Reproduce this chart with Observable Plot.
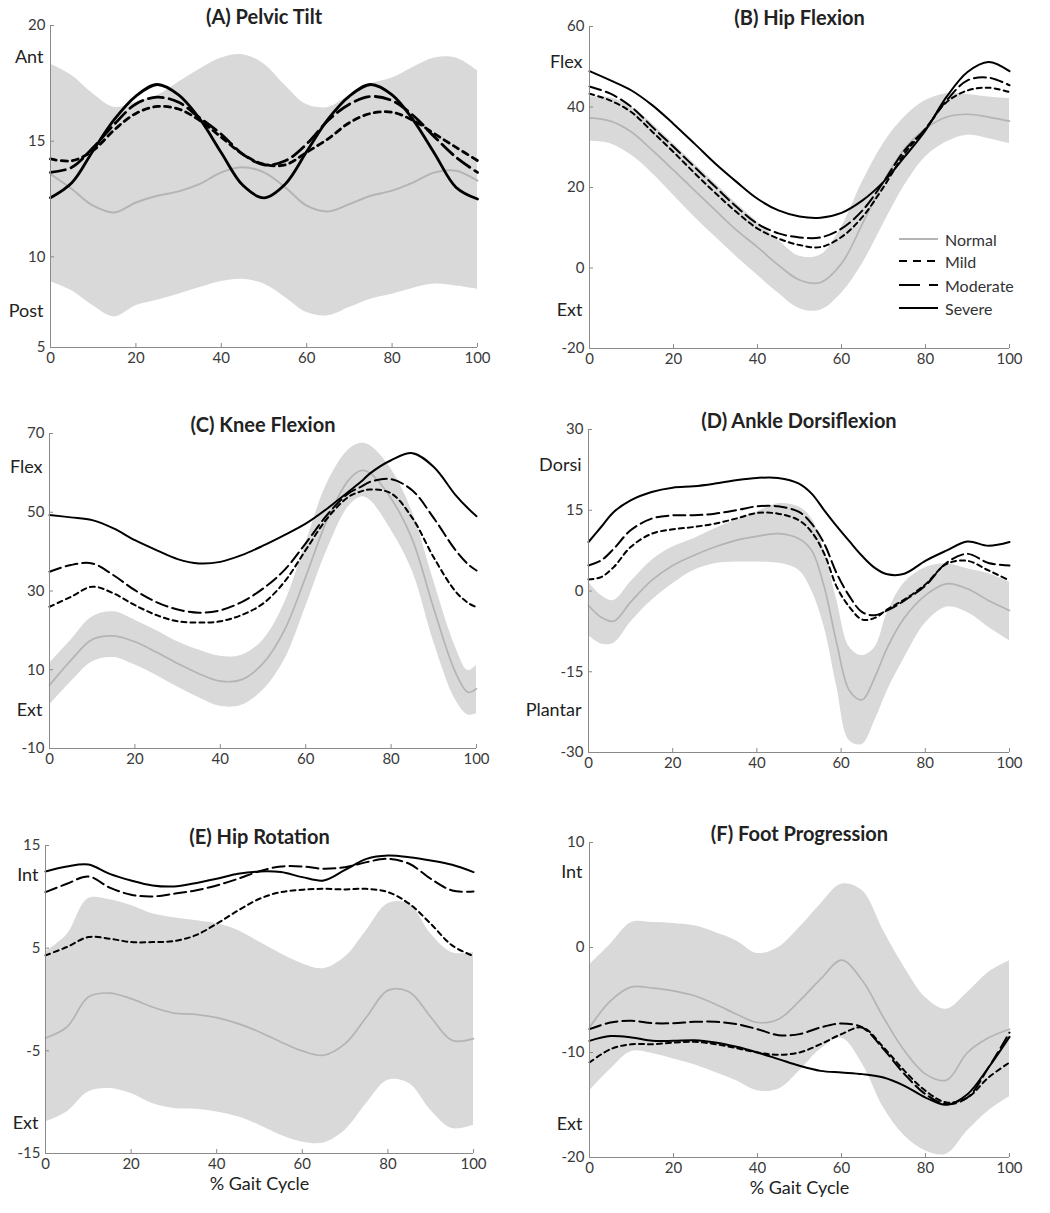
<!DOCTYPE html>
<html>
<head>
<meta charset="utf-8">
<script src="https://cdn.jsdelivr.net/npm/d3@7"></script>
<script src="https://cdn.jsdelivr.net/npm/@observablehq/plot@0.6"></script>
<style>
  body { margin: 0; background: #fff; font-family: Lato, "Open Sans", sans-serif; }
  #root { position: relative; width: 1050px; height: 1213px; overflow: hidden; background: #fff; }
  .panel { position: absolute; }
  .panel svg { overflow: visible; }
  .legend-row { position: absolute; height: 20px; display: flex; align-items: center; font-size: 16px; color: #333; white-space: nowrap; }
  .legend-row svg { display: block; margin-right: 6px; }
</style>
</head>
<body>
<div id="root"></div>
<script>
// ---------------- DATA ----------------
const gaitX = [0,5,10,15,20,25,30,35,40,45,50,55,60,65,70,75,80,85,90,95,100];
const groups = ["Normal", "Mild", "Moderate", "Severe"];
const xTicks = [0, 20, 40, 60, 80, 100];

// (A) Pelvic Tilt
const pelvicNormal   = [13.58,12.93,12.21,11.92,12.35,12.64,12.83,13.15,13.65,13.87,13.65,13.00,12.21,11.96,12.28,12.64,12.86,13.22,13.65,13.72,13.29];
const pelvicUpper    = [18.34,17.84,17.04,16.46,16.68,16.97,17.55,18.12,18.60,18.74,18.34,17.40,16.58,16.46,16.97,17.47,17.73,18.20,18.60,18.60,18.05];
const pelvicLower    = [8.92,8.53,7.88,7.40,7.88,8.12,8.38,8.67,8.93,9.03,8.82,8.24,7.59,7.45,7.81,8.17,8.38,8.64,8.82,8.74,8.60];
const pelvicMild     = [14.23,14.15,14.6,15.5,16.2,16.5,16.39,15.89,15.17,14.44,14.0,13.98,14.52,15.1,15.8,16.2,16.25,15.89,15.31,14.73,14.16];
const pelvicModerate = [13.65,13.87,14.73,15.74,16.61,16.9,16.68,16.0,15.3,14.44,13.98,14.15,14.88,15.89,16.6,16.93,16.75,16.1,15.17,14.3,13.65];
const pelvicSevere   = [12.55,13.2,14.6,15.95,16.95,17.45,17.0,15.95,14.5,13.1,12.55,13.15,14.55,15.95,16.95,17.45,17.0,15.9,14.45,13.0,12.5];

// (B) Hip Flexion
const hipNormal   = [37.3,36.5,33.8,29.2,24.3,19.3,14.3,9.4,5.2,0.7,-3.0,-3.6,1.1,11.0,21.4,29.6,34.6,37.5,38.2,37.5,36.5];
const hipUpper    = [42.5,42.3,40.0,35.8,30.9,25.9,21.0,16.0,11.4,6.9,2.9,3.2,10.2,21.4,30.9,37.5,41.6,43.3,43.1,42.5,42.1];
const hipLower    = [31.5,30.9,28.0,23.5,18.1,12.7,7.7,2.8,-1.8,-6.3,-10.1,-10.5,-6.3,1.1,11.0,20.5,27.6,31.3,33.0,32.1,30.9];
const hipMild     = [43.3,41.6,38.7,33.8,28.8,23.6,18.6,13.9,9.8,7.3,5.7,5.2,7.7,12.7,20.1,28.4,34.6,41.2,44.1,44.8,43.7];
const hipModerate = [45.1,43.3,40.0,35.0,30.1,25.1,20.1,15.2,11.0,8.6,7.6,7.6,9.8,14.3,21.4,29.2,34.6,41.6,46.6,47.3,45.4];
const hipSevere   = [48.9,46.6,44.1,40.4,35.8,30.9,25.9,21.4,17.2,14.3,12.8,12.5,13.7,16.8,21.4,27.6,34.2,42.5,48.7,51.2,48.9];

// (C) Knee Flexion
const kneeX        = [0,5,10,15,20,25,30,35,40,45,50,55,60,65,70,73,75,80,85,90,95,98,100];
const kneeNormal   = [6.1,12.4,17.7,18.6,17.1,14.5,11.6,9.0,7.1,7.5,11.6,20.0,33.6,48.0,58.1,60.6,60.0,53.5,43.0,25.5,9.5,4.3,5.2];
const kneeUpper    = [11.6,17.5,23.4,24.7,22.6,20.0,17.1,15.0,13.4,13.7,17.5,26.8,42.1,57.3,65.8,67.5,67.0,61.0,50.0,32.5,16.0,9.8,11.1];
const kneeLower    = [1.0,6.9,12.0,13.1,11.2,8.6,5.6,2.9,0.7,1.0,4.8,12.4,26.0,40.4,51.4,53.9,53.1,45.5,35.0,17.0,2.5,-1.5,-1.2];
const kneeMild     = [26.0,28.5,31.1,29.4,26.4,23.9,22.3,22.0,22.3,23.9,26.8,32.3,40.4,48.4,53.9,55.3,55.8,54.8,48.5,38.5,30.0,27.0,25.9];
const kneeModerate = [34.9,36.6,37.0,34.0,30.2,27.2,25.3,24.5,25.1,27.2,30.6,35.3,42.1,49.3,54.8,56.5,57.7,58.4,55.5,48.5,40.5,36.8,35.2];
const kneeSevere   = [49.3,48.7,48.0,45.9,42.9,40.4,38.1,37.0,37.4,39.1,41.5,44.2,47.1,50.9,55.2,57.8,59.8,63.2,65.0,61.5,54.5,51.0,49.0];

// (D) Ankle Dorsiflexion
const ankleX        = [0,3,6,10,15,20,25,30,35,40,45,50,53,56,59,62,65,68,71,75,80,85,90,95,100];
const ankleNormal   = [-2.69,-4.86,-5.61,-2.07,1.96,4.75,6.61,8.16,9.40,10.15,10.64,9.71,7.54,0.72,-9.83,-18.52,-20.2,-16.03,-10.45,-5.0,-0.8,1.34,0.41,-1.76,-3.62];
const ankleUpper    = [1.65,-0.83,-1.76,1.65,5.68,8.16,9.71,11.58,13.13,14.68,16.23,15.61,13.44,7.54,-1.76,-10.45,-12.0,-10.5,-4.0,1.5,4.3,5.06,4.13,3.20,1.65];
const ankleLower    = [-8.28,-9.83,-9.70,-5.79,-1.76,1.34,3.82,5.06,5.37,5.37,5.18,3.82,0.10,-6.72,-17.89,-27.82,-28.5,-24.09,-18.51,-12.5,-6.0,-3.0,-4.0,-6.72,-9.21];
const ankleMild     = [2.15,2.58,4.44,8.16,10.64,11.45,11.89,12.51,13.44,14.49,14.37,13.13,10.96,6.92,0.72,-3.0,-5.3,-5.0,-3.4,-1.6,1.2,5.0,5.6,3.82,1.96];
const ankleModerate = [4.75,5.68,7.85,11.27,13.44,14.06,14.06,14.37,14.99,15.73,15.73,14.68,12.51,8.78,3.2,-1.0,-3.93,-4.5,-3.6,-1.8,1.0,5.2,6.9,5.2,4.75];
const ankleSevere   = [9.1,11.89,14.68,16.85,18.4,19.2,19.45,19.95,20.57,21.0,21.0,19.95,18.09,14.99,12.0,9.2,6.5,4.3,3.1,3.2,5.6,7.5,9.2,8.4,9.1];

// (E) Hip Rotation
const hipRotNormal   = [-3.75,-2.68,0.24,0.63,0.08,-0.73,-1.32,-1.44,-1.77,-2.35,-3.16,-4.14,-5.01,-5.43,-4.3,-1.70,0.89,0.73,-1.70,-3.98,-3.81];
const hipRotUpper    = [4.62,6.3,9.81,9.71,9.16,8.35,7.96,7.70,7.38,6.73,5.59,4.46,3.49,3.0,4.13,6.73,9.32,9.32,6.40,4.56,4.56];
const hipRotLower    = [-11.92,-10.95,-9.0,-8.68,-9.16,-10.14,-10.62,-10.69,-10.95,-11.43,-12.25,-13.22,-13.87,-13.97,-12.73,-10.14,-7.87,-8.19,-10.79,-12.57,-12.25];
const hipRotMild     = [4.30,5.11,6.08,5.92,5.59,5.59,5.69,6.24,7.38,8.67,9.81,10.46,10.69,10.78,10.72,10.78,10.46,9.32,7.38,5.27,4.23];
const hipRotModerate = [10.46,11.27,11.98,10.9,10.2,10.04,10.30,10.62,11.11,11.76,12.50,12.96,12.96,12.73,12.89,13.38,13.70,13.22,11.76,10.62,10.52];
const hipRotSevere   = [12.47,12.96,13.15,12.24,11.59,11.11,11.01,11.33,11.76,12.24,12.47,12.41,11.92,11.59,12.63,13.70,14.03,13.86,13.54,13.12,12.41];

// (F) Foot Progression
const footNormal   = [-7.62,-5.08,-3.75,-3.87,-4.13,-4.60,-5.40,-6.35,-7.14,-6.83,-5.08,-3.02,-1.21,-3.17,-6.67,-9.84,-12.06,-12.63,-10.0,-8.6,-7.78];
const footUpper    = [-1.65,0.32,2.38,2.38,2.29,2.06,1.43,0.63,-0.57,0.0,1.90,4.13,6.03,5.40,1.59,-1.90,-4.76,-5.87,-4.29,-2.38,-1.27];
const footLower    = [-13.65,-11.59,-9.90,-10.10,-10.63,-11.17,-11.90,-12.70,-13.65,-13.49,-11.75,-9.68,-8.63,-11.11,-15.24,-17.94,-19.37,-19.68,-17.46,-15.56,-14.22];
const footMild     = [-10.95,-9.68,-9.21,-9.21,-9.05,-8.98,-9.21,-9.59,-10.0,-10.22,-10.0,-9.21,-8.25,-7.62,-9.52,-11.75,-13.65,-14.76,-14.29,-12.38,-10.95];
const footModerate = [-7.78,-7.14,-6.98,-7.21,-7.21,-7.08,-7.08,-7.30,-7.78,-8.35,-8.25,-7.62,-7.24,-7.62,-9.68,-12.06,-13.97,-14.92,-14.29,-11.43,-8.10];
const footSevere   = [-8.89,-8.44,-8.57,-8.89,-8.89,-8.83,-9.05,-9.46,-10.0,-10.63,-11.27,-11.75,-11.90,-12.06,-12.38,-13.17,-14.29,-14.98,-13.97,-11.43,-8.51];

// ---------------- LAYOUT ----------------
const panels = [
  { title: "(A) Pelvic Tilt", x: gaitX, normal: pelvicNormal, upper: pelvicUpper, lower: pelvicLower,
    mild: pelvicMild, moderate: pelvicModerate, severe: pelvicSevere,
    yDomain: [6.08, 20], yTicks: [20, 15, 10, 6.08], yTickText: ["20", "15", "10", "5"],
    dir: [{ y: 18.61, text: "Ant" }, { y: 7.66, text: "Post" }],
    left: 0, top: 0, w: 525, h: 400, frame: { l: 50, r: 477, t: 25, b: 347 }, heavy: true },
  { title: "(B) Hip Flexion", x: gaitX, normal: hipNormal, upper: hipUpper, lower: hipLower,
    mild: hipMild, moderate: hipModerate, severe: hipSevere,
    yDomain: [-20, 60], yTicks: [60, 40, 20, 0, -20],
    dir: [{ y: 51.15, text: "Flex" }, { y: -10.47, text: "Ext" }],
    left: 525, top: 0, w: 525, h: 400, frame: { l: 589, r: 1009, t: 26, b: 348 } },
  { title: "(C) Knee Flexion", x: kneeX, normal: kneeNormal, upper: kneeUpper, lower: kneeLower,
    mild: kneeMild, moderate: kneeModerate, severe: kneeSevere,
    yDomain: [-10, 70], yTicks: [70, 50, 30, 10, -10],
    dir: [{ y: 61.5, text: "Flex" }, { y: -0.28, text: "Ext" }],
    left: 0, top: 400, w: 525, h: 405, frame: { l: 49, r: 476, t: 433, b: 748 } },
  { title: "(D) Ankle Dorsiflexion", x: ankleX, normal: ankleNormal, upper: ankleUpper, lower: ankleLower,
    mild: ankleMild, moderate: ankleModerate, severe: ankleSevere,
    yDomain: [-30, 30], yTicks: [30, 15, 0, -15, -30],
    dir: [{ y: 23.36, text: "Dorsi" }, { y: -22.23, text: "Plantar" }],
    left: 525, top: 400, w: 525, h: 405, frame: { l: 588, r: 1009, t: 429, b: 752 } },
  { title: "(E) Hip Rotation", x: gaitX, normal: hipRotNormal, upper: hipRotUpper, lower: hipRotLower,
    mild: hipRotMild, moderate: hipRotModerate, severe: hipRotSevere,
    yDomain: [-15, 15], yTicks: [15, 5, -5, -15],
    dir: [{ y: 12.08, text: "Int" }, { y: -12.08, text: "Ext" }],
    left: 0, top: 805, w: 525, h: 408, frame: { l: 45, r: 473, t: 845, b: 1153 }, xLabel: "% Gait Cycle" },
  { title: "(F) Foot Progression", x: gaitX, normal: footNormal, upper: footUpper, lower: footLower,
    mild: footMild, moderate: footModerate, severe: footSevere,
    yDomain: [-20, 10], yTicks: [10, 0, -10, -20],
    dir: [{ y: 7.14, text: "Int" }, { y: -16.83, text: "Ext" }],
    left: 525, top: 805, w: 525, h: 408, frame: { l: 589, r: 1009, t: 842, b: 1157 }, xLabel: "% Gait Cycle" }
];

const root = document.getElementById("root");
const curve = "catmull-rom";
const axisGray = "#8a8a8a";
const textGray = "#3a3a3a";

for (const p of panels) {
  const rows = p.x.map((x, i) => ({
    x, normal: p.normal[i], upper: p.upper[i], lower: p.lower[i],
    mild: p.mild[i], moderate: p.moderate[i], severe: p.severe[i]
  }));
  const lw = p.heavy ? 2.8 : 2;
  const mildDash = p.heavy ? "6,5" : "5,4";
  const modDash = p.heavy ? "15,6" : "12,5";
  const yFmt = p.yTickText ? d => p.yTickText[p.yTicks.indexOf(d)] : d => String(d);
  const marks = [
    Plot.areaY(rows, { x: "x", y1: "lower", y2: "upper", fill: "#d9d9d9", curve }),
    Plot.lineY(rows, { x: "x", y: "normal", stroke: "#b4b4b4", strokeWidth: p.heavy ? 2 : 1.7, curve }),
    Plot.lineY(rows, { x: "x", y: "mild", stroke: "#000", strokeWidth: lw, strokeDasharray: mildDash, curve }),
    Plot.lineY(rows, { x: "x", y: "moderate", stroke: "#000", strokeWidth: lw, strokeDasharray: modDash, curve }),
    Plot.lineY(rows, { x: "x", y: "severe", stroke: "#000", strokeWidth: lw, curve }),
    Plot.ruleX([0], { stroke: axisGray, strokeWidth: 1 }),
    Plot.ruleY([p.yDomain[0]], { stroke: axisGray, strokeWidth: 1 }),
    Plot.axisX({ ticks: xTicks, tickSize: -4, tickPadding: 9, stroke: axisGray, fill: textGray, fontSize: 15, label: null, tickFormat: d => String(d) }),
    Plot.axisY({ ticks: p.yTicks, tickSize: -4, tickPadding: 9, stroke: axisGray, fill: textGray, fontSize: 15, label: null, tickFormat: yFmt }),
    Plot.text(p.dir.map(d => ({ ...d, x: 0 })), { x: "x", y: "y", text: "text", textAnchor: "end", dx: -7, fontSize: 18, fill: "#222" }),
    Plot.text([p.title], { frameAnchor: "top", dy: -8, lineAnchor: "middle", fontSize: 20, fontWeight: "bold", fill: "#222" })
  ];
  if (p.xLabel) {
    marks.push(Plot.text([p.xLabel], { frameAnchor: "bottom", dy: 31, lineAnchor: "middle", fontSize: 18, fill: "#222" }));
  }
  const chart = Plot.plot({
    width: p.w,
    height: p.h,
    marginLeft: p.frame.l - p.left,
    marginRight: p.left + p.w - p.frame.r,
    marginTop: p.frame.t - p.top,
    marginBottom: p.top + p.h - p.frame.b,
    style: { fontFamily: "Lato, 'Open Sans', sans-serif", fontSize: "15px", background: "transparent", overflow: "visible" },
    x: { domain: [0, 100] },
    y: { domain: p.yDomain },
    marks
  });
  const div = document.createElement("div");
  div.className = "panel";
  div.style.left = p.left + "px";
  div.style.top = p.top + "px";
  div.appendChild(chart);
  root.appendChild(div);
}

// ---------------- LEGEND (inside panel B) ----------------
const legendStyles = {
  Normal:   { stroke: "#b4b4b4", dash: null },
  Mild:     { stroke: "#000", dash: "8,6" },
  Moderate: { stroke: "#000", dash: "21,9" },
  Severe:   { stroke: "#000", dash: null }
};
const legendTops = [229, 251, 275, 298];
groups.forEach((g, i) => {
  const row = document.createElement("div");
  row.className = "legend-row";
  row.style.left = "899px";
  row.style.top = legendTops[i] + "px";
  const s = legendStyles[g];
  row.innerHTML = `<svg width="40" height="10"><line x1="0" x2="39" y1="5" y2="5" stroke="${s.stroke}" stroke-width="2.2" ${s.dash ? `stroke-dasharray="${s.dash}"` : ""}/></svg><span>${g}</span>`;
  root.appendChild(row);
});
</script>
</body>
</html>
